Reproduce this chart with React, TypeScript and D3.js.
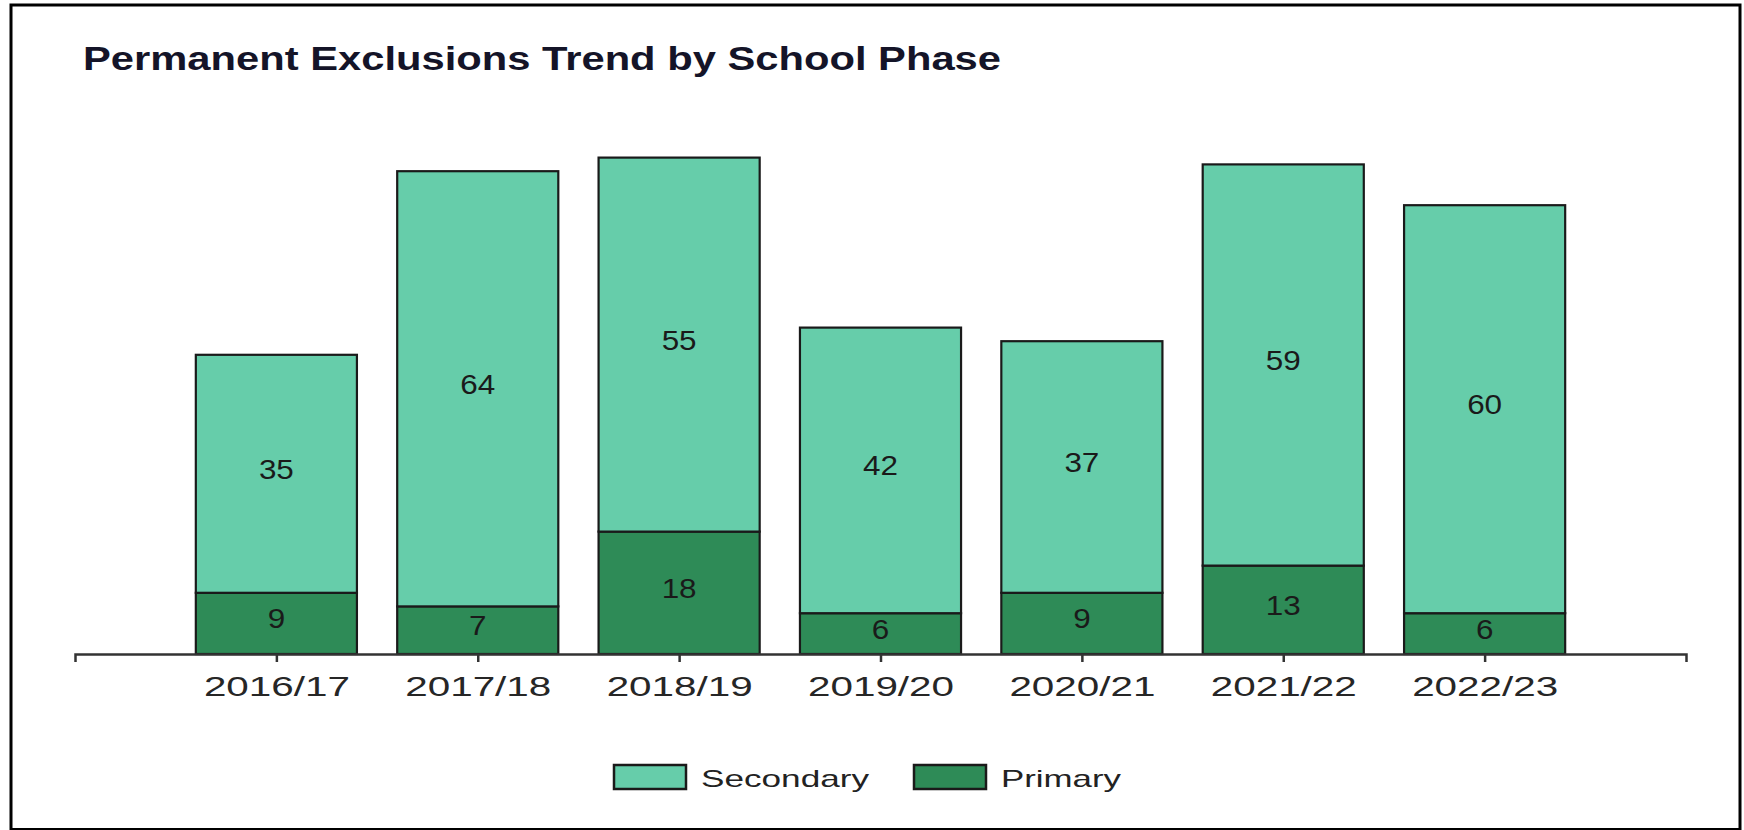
import React, { useEffect, useRef } from 'react';
import * as d3 from 'd3';

const categories = ['2016/17', '2017/18', '2018/19', '2019/20', '2020/21', '2021/22', '2022/23'];
const secondaryValues = [35, 64, 55, 42, 37, 59, 60];
const primaryValues = [9, 7, 18, 6, 9, 13, 6];
const seriesKeys = ['Primary', 'Secondary'];
const seriesColors: Record<string, string> = { Primary: '#2e8b57', Secondary: '#66cdaa' };
const legendOrder = ['Secondary', 'Primary'];
const yMax = 80;
const title = 'Permanent Exclusions Trend by School Phase';

const W = 1744;
const H = 830;
const FONT = "'Liberation Sans', Arial, sans-serif";

export default function App() {
  const axisRef = useRef<SVGGElement>(null);

  const x = d3.scalePoint<string>().domain(categories).range([75, 1686]).padding(1);
  const y = d3.scaleLinear().domain([0, yMax]).range([654, 110]);
  const barW = x.step() * 0.8;

  const rows = categories.map((c, i) => ({ cat: c, Primary: primaryValues[i], Secondary: secondaryValues[i] }));
  const stacked = d3.stack<any>().keys(seriesKeys)(rows);

  useEffect(() => {
    if (!axisRef.current) return;
    const g = d3.select(axisRef.current);
    g.selectAll('*').remove();
    g.call(d3.axisBottom(x).tickSizeInner(8).tickSizeOuter(8).tickPadding(14) as any);
    g.select('.domain').attr('stroke', '#333').attr('stroke-width', 2.5);
    g.selectAll('.tick line').attr('stroke', '#333').attr('stroke-width', 2.5);
    g.selectAll('.tick text')
      .attr('font-family', FONT)
      .attr('font-size', 28)
      .attr('fill', '#262626')
      .attr('dy', null)
      .attr('y', 42)
      .attr('textLength', 146)
      .attr('lengthAdjust', 'spacingAndGlyphs');
  }, []);

  return (
    <svg width={W} height={H} style={{ position: 'absolute', left: 0, top: 0, background: '#fff' }}>
      <rect x={0} y={0} width={W} height={H} fill="#fff" />
      <rect x={11} y={5} width={1729} height={824.5} fill="none" stroke="#000" strokeWidth={3} />
      <text
        x={83}
        y={70}
        fontFamily={FONT}
        fontWeight="bold"
        fontSize={34}
        fill="#141428"
        textLength={918}
        lengthAdjust="spacingAndGlyphs"
      >
        {title}
      </text>
      {stacked.map((s) => (
        <g key={s.key}>
          {s.map((d, i) => {
            const cx = x(categories[i]) as number;
            const y0 = y(d[0]);
            const y1 = y(d[1]);
            const v = d[1] - d[0];
            const label = String(v);
            return (
              <g key={i}>
                <rect
                  x={cx - barW / 2}
                  y={y1}
                  width={barW}
                  height={y0 - y1}
                  fill={seriesColors[s.key]}
                  stroke="#1a1a1a"
                  strokeWidth={2.2}
                />
                <text
                  x={cx}
                  y={(y0 + y1) / 2 + 5}
                  textAnchor="middle"
                  fontFamily={FONT}
                  fontSize={27}
                  fill="#1a1a1a"
                  textLength={label.length * 17.5}
                  lengthAdjust="spacingAndGlyphs"
                >
                  {label}
                </text>
              </g>
            );
          })}
        </g>
      ))}
      <g ref={axisRef} transform={`translate(0,${y(0)})`} />
      {legendOrder.map((k, i) => {
        const lx = i === 0 ? 614 : 914;
        const tw = i === 0 ? 168 : 120;
        return (
          <g key={k}>
            <rect x={lx} y={765} width={72} height={24} fill={seriesColors[k]} stroke="#1a1a1a" strokeWidth={2.5} />
            <text
              x={lx + 87}
              y={787}
              fontFamily={FONT}
              fontSize={24}
              fill="#222"
              textLength={tw}
              lengthAdjust="spacingAndGlyphs"
            >
              {k}
            </text>
          </g>
        );
      })}
    </svg>
  );
}
